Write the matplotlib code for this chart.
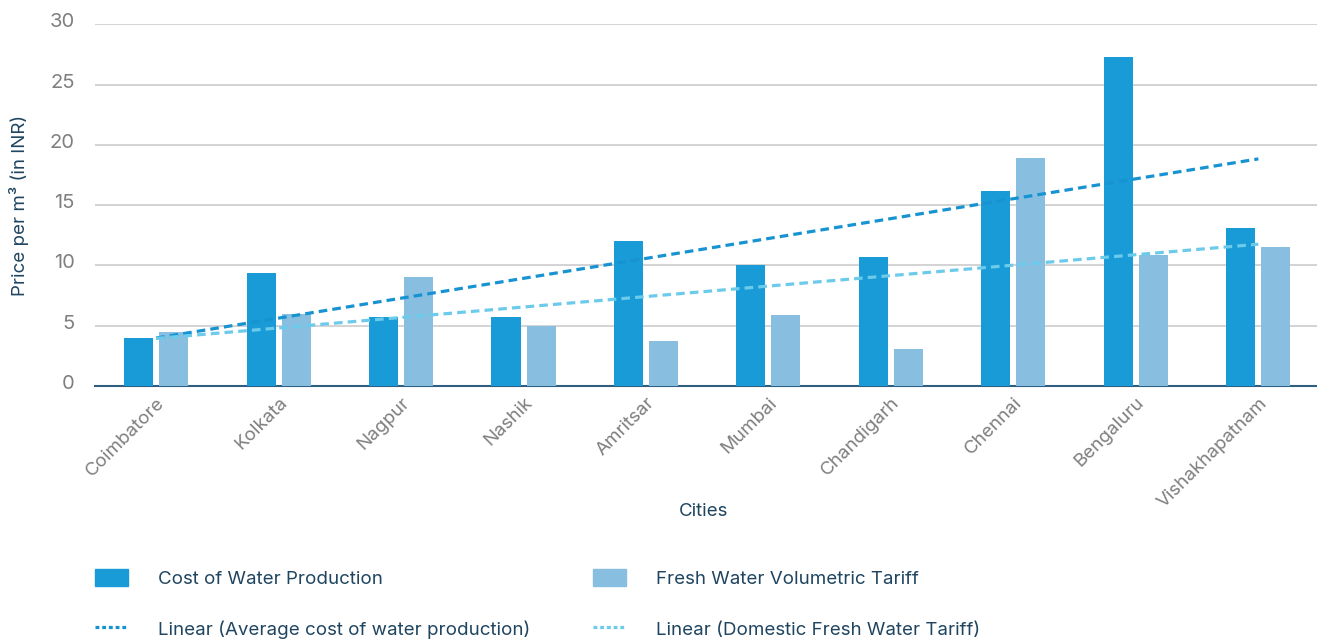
import numpy as np
import matplotlib
matplotlib.use("Agg")
import matplotlib.pyplot as plt
from matplotlib.patches import Patch
from matplotlib.lines import Line2D
from matplotlib.transforms import ScaledTranslation

plt.rcParams['font.family'] = ['Inter', 'DejaVu Sans']

cities = ["Coimbatore", "Kolkata", "Nagpur", "Nashik", "Amritsar", "Mumbai",
          "Chandigarh", "Chennai", "Bengaluru", "Vishakhapatnam"]
cost_production = [4.0, 9.4, 5.7, 5.7, 12.0, 10.0, 10.7, 16.15, 27.3, 13.1]
fresh_tariff = [4.5, 6.0, 9.0, 5.0, 3.7, 5.9, 3.1, 18.9, 10.9, 11.5]
yticks = [0, 5, 10, 15, 20, 25, 30]

c_dark = "#189bd6"
c_light = "#88bfe0"
c_trend_dark = "#1793d1"
c_trend_light = "#6ccbeb"
c_text = "#1f4560"
c_tick = "#7f7f7f"

fig = plt.figure(figsize=(13.17, 6.39), dpi=100)
ax = fig.add_axes([0.072, 0.396, 0.93, 0.566])

x = np.arange(len(cities))
w = 0.237
off = 0.143
ax.bar(x - off, cost_production, width=w, color=c_dark, zorder=3)
ax.bar(x + off, fresh_tariff, width=w, color=c_light, zorder=3)

# linear trend lines (least squares fit of the data)
p1 = np.polyfit(x, cost_production, 1)
p2 = np.polyfit(x, fresh_tariff, 1)
ax.plot(x, np.polyval(p1, x), color=c_trend_dark, lw=2.3, ls=(0, (2.7, 1.6)), zorder=4)
ax.plot(x, np.polyval(p2, x), color=c_trend_light, lw=2.3, ls=(0, (2.7, 1.6)), zorder=4)

ax.set_xlim(-0.5, 9.5)
ax.set_ylim(0, 30)
ax.set_yticks(yticks)
ax.set_yticklabels([str(t) for t in yticks])
ax.yaxis.grid(True, color="#c8c8c8", lw=1.1, zorder=0)
ax.set_axisbelow(True)
for s in ["left", "right", "top"]:
    ax.spines[s].set_visible(False)
ax.spines["bottom"].set_color("#2f5f80")
ax.spines["bottom"].set_linewidth(1.5)
ax.tick_params(axis="y", length=0, pad=14.5, labelsize=14.5, labelcolor=c_tick)
ax.tick_params(axis="x", length=0, pad=6, labelsize=13.5, labelcolor=c_tick)
ax.set_xticks(x)
ax.set_xticklabels(cities, rotation=45, ha="right", rotation_mode="anchor")
for lab in ax.get_yticklabels():
    lab.set_transform(lab.get_transform() + ScaledTranslation(0, 4 / 100, fig.dpi_scale_trans))

ax.set_ylabel("Price per m\u00b3 (in INR)", fontsize=13.5, color=c_text)
ax.yaxis.set_label_coords(-0.054, 0.5)
fig.text(0.534, 0.2, "Cities", fontsize=13.5, color=c_text, ha="center", va="center")

handles = [Patch(color=c_dark),
           Line2D([], [], color=c_trend_dark, lw=2.3, ls=(0, (1.2, 0.9))),
           Patch(color=c_light),
           Line2D([], [], color=c_trend_light, lw=2.3, ls=(0, (1.2, 0.9)))]
labels = ["Cost of Water Production",
          "Linear (Average cost of water production)",
          "Fresh Water Volumetric Tariff",
          "Linear (Domestic Fresh Water Tariff)"]
leg = fig.legend(handles, labels, ncol=2, loc="upper left",
                 bbox_to_anchor=(0.0722, 0.110), frameon=False,
                 fontsize=13.5, handlelength=1.76, handleheight=1.05,
                 handletextpad=1.6, columnspacing=3.36, labelspacing=1.71,
                 borderaxespad=0, borderpad=0)
for t in leg.get_texts():
    t.set_color(c_text)
fig.savefig("out.png", dpi=100)
